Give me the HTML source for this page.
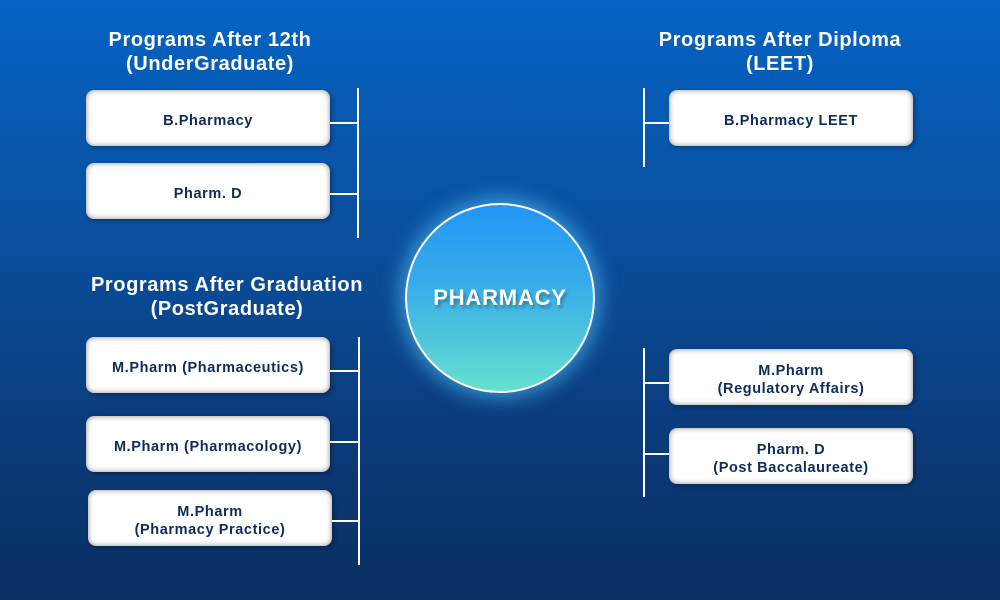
<!DOCTYPE html>
<html><head><style>
body{margin:0}
#c{position:relative;width:1000px;height:600px;overflow:hidden;background:linear-gradient(180deg,#0563c4 0%,#0a4f9e 40%,#0b3a78 75%,#0a2f62 100%);font-family:"Liberation Sans",sans-serif}
.h{position:absolute;color:#fff;font-weight:bold;font-size:20px;letter-spacing:.6px;text-align:center;line-height:24px}
.b{position:absolute;width:244px;height:56px;box-sizing:border-box;padding-top:5px;background:#fff;border-radius:8px;box-shadow:inset 0 0 6px rgba(0,0,0,.45),2px 2px 4px rgba(0,0,0,.3);display:flex;align-items:center;justify-content:center;text-align:center;color:#0d2b5c;font-weight:bold;font-size:14.5px;letter-spacing:.6px;line-height:18px}
.v{position:absolute;width:1.5px;background:#fff}
.l{position:absolute;height:1.5px;background:#fff}
#circ{position:absolute;left:405px;top:203px;width:186px;height:186px;border-radius:50%;border:2px solid #fff;background:linear-gradient(180deg,#2196f5 0%,#3aaee8 45%,#66e0d0 100%);box-shadow:0 0 18px 6px rgba(90,200,255,.55);display:flex;align-items:center;justify-content:center;color:#fff;font-weight:bold;font-size:22px;letter-spacing:.8px;text-shadow:2px 3px 3px rgba(0,0,0,.3)}
</style></head><body><div id="c">
<div class="h" style="left:60px;width:300px;top:28px">Programs After 12th<br>(UnderGraduate)</div>
<div class="h" style="left:610px;width:340px;top:28px">Programs After Diploma<br>(LEET)</div>
<div class="h" style="left:60px;width:334px;top:273px">Programs After Graduation<br>(PostGraduate)</div>

<div class="b" style="left:86px;top:90px">B.Pharmacy</div>
<div class="b" style="left:86px;top:163px">Pharm. D</div>
<div class="v" style="left:357px;top:88px;height:150px"></div>
<div class="l" style="left:330px;top:122px;width:28px"></div>
<div class="l" style="left:330px;top:193px;width:28px"></div>

<div class="b" style="left:86px;top:337px">M.Pharm (Pharmaceutics)</div>
<div class="b" style="left:86px;top:416px">M.Pharm (Pharmacology)</div>
<div class="b" style="left:88px;top:490px">M.Pharm<br>(Pharmacy Practice)</div>
<div class="v" style="left:358px;top:337px;height:228px"></div>
<div class="l" style="left:330px;top:370px;width:29px"></div>
<div class="l" style="left:330px;top:441px;width:29px"></div>
<div class="l" style="left:332px;top:520px;width:27px"></div>

<div class="b" style="left:669px;top:90px">B.Pharmacy LEET</div>
<div class="v" style="left:643px;top:88px;height:79px"></div>
<div class="l" style="left:643px;top:122px;width:26px"></div>

<div class="b" style="left:669px;top:349px">M.Pharm<br>(Regulatory Affairs)</div>
<div class="b" style="left:669px;top:428px">Pharm. D<br>(Post Baccalaureate)</div>
<div class="v" style="left:643px;top:348px;height:149px"></div>
<div class="l" style="left:643px;top:382px;width:26px"></div>
<div class="l" style="left:643px;top:453px;width:26px"></div>

<div id="circ">PHARMACY</div>
</div></body></html>
